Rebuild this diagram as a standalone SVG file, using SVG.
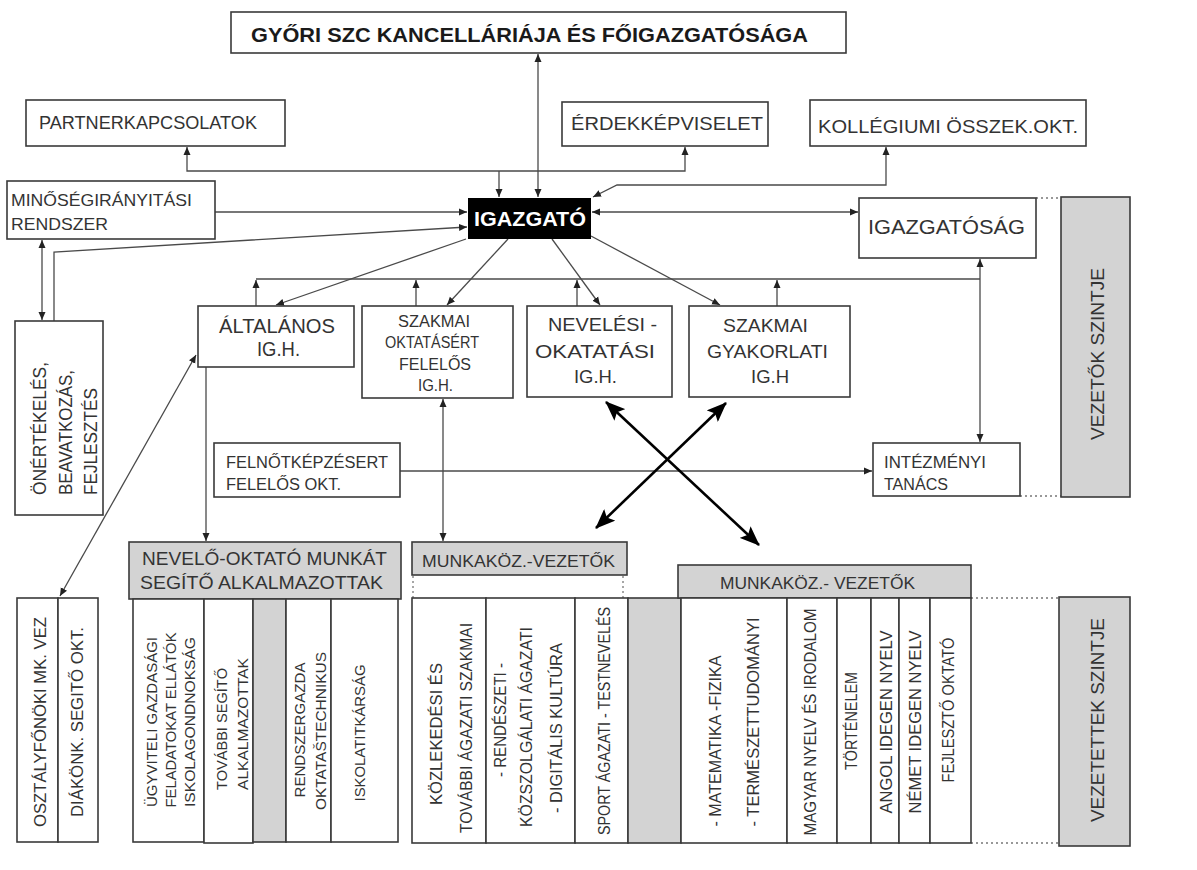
<svg xmlns="http://www.w3.org/2000/svg" width="1197" height="870" viewBox="0 0 1197 870">
<defs>
<style>
.t{font-family:"Liberation Sans",Arial,sans-serif;fill:#333}
.b{font-weight:bold}
.box{fill:#fff;stroke:#3a3a3a;stroke-width:1.6}
.gbox{fill:#d3d3d3;stroke:#3a3a3a;stroke-width:1.6}
.c{fill:none;stroke:#4a4a4a;stroke-width:1.3}
.big{fill:none;stroke:#000;stroke-width:2.6}
.dot{fill:none;stroke:#777;stroke-width:1.3;stroke-dasharray:2 3}
</style>
<marker id="a" viewBox="0 0 8 8" refX="8" refY="4" markerWidth="8" markerHeight="8" markerUnits="userSpaceOnUse" orient="auto-start-reverse"><path d="M0,0.5 L8,4 L0,7.5 z" fill="#222"/></marker>
<marker id="A" viewBox="0 0 20 16" refX="19" refY="8" markerWidth="20" markerHeight="16" markerUnits="userSpaceOnUse" orient="auto-start-reverse"><path d="M0,0 L20,8 L0,16 L4,8 z" fill="#000"/></marker>
</defs>
<rect width="1197" height="870" fill="#fff"/>

<g id="connectors">
<line class="c" x1="538" y1="54" x2="538" y2="197" marker-start="url(#a)" marker-end="url(#a)"/>
<polyline class="c" points="187,147 187,171 685,171 685,147" marker-start="url(#a)" marker-end="url(#a)"/>
<line class="c" x1="499" y1="171" x2="499" y2="197" marker-end="url(#a)"/>
<polyline class="c" points="886,147 886,185 617,185 593,197" marker-start="url(#a)" marker-end="url(#a)"/>
<line class="c" x1="215" y1="212" x2="467" y2="212" marker-end="url(#a)"/>
<polyline class="c" points="54,321 54,252 467,227" marker-end="url(#a)"/>
<line class="c" x1="42" y1="240" x2="42" y2="320" marker-start="url(#a)" marker-end="url(#a)"/>
<line class="c" x1="592" y1="212" x2="858" y2="212" marker-start="url(#a)" marker-end="url(#a)"/>
<line class="c" x1="466" y1="239" x2="276" y2="305" marker-end="url(#a)"/>
<line class="c" x1="508" y1="239" x2="447" y2="305" marker-end="url(#a)"/>
<line class="c" x1="552" y1="239" x2="600" y2="305" marker-end="url(#a)"/>
<line class="c" x1="591" y1="236" x2="720" y2="305" marker-end="url(#a)"/>
<polyline class="c" points="256,279 980,279"/>
<line class="c" x1="256" y1="306" x2="256" y2="280" marker-end="url(#a)"/>
<line class="c" x1="416" y1="306" x2="416" y2="280" marker-end="url(#a)"/>
<line class="c" x1="577" y1="306" x2="577" y2="280" marker-end="url(#a)"/>
<line class="c" x1="777" y1="306" x2="777" y2="280" marker-end="url(#a)"/>
<line class="c" x1="980" y1="259" x2="980" y2="442" marker-start="url(#a)" marker-end="url(#a)"/>
<line class="c" x1="206" y1="367" x2="206" y2="541" marker-end="url(#a)"/>
<line class="c" x1="443" y1="399" x2="443" y2="541" marker-start="url(#a)" marker-end="url(#a)"/>
<line class="c" x1="400" y1="471" x2="872" y2="471" marker-end="url(#a)"/>
<line class="c" x1="196" y1="355" x2="60" y2="596" marker-start="url(#a)" marker-end="url(#a)"/>
<line class="big" x1="606" y1="402" x2="759" y2="545" marker-start="url(#A)" marker-end="url(#A)"/>
<line class="big" x1="726" y1="403" x2="596" y2="528" marker-start="url(#A)" marker-end="url(#A)"/>
<line class="dot" x1="1036" y1="198" x2="1061" y2="198"/>
<line class="dot" x1="1020" y1="496" x2="1061" y2="496"/>
<line class="dot" x1="971" y1="598" x2="1059" y2="598"/>
<line class="dot" x1="971" y1="843" x2="1059" y2="843"/>
<line class="dot" x1="413" y1="576" x2="413" y2="598"/>
<line class="dot" x1="623" y1="576" x2="623" y2="598"/>
</g>

<g id="kancellaria">
<rect class="box" x="231" y="12" width="615" height="41"/>
<text class="t b" x="251" y="42" font-size="21" textLength="557" lengthAdjust="spacingAndGlyphs" style="fill:#1a1a1a">GYŐRI SZC KANCELLÁRIÁJA ÉS FŐIGAZGATÓSÁGA</text>
</g>
<g id="partner">
<rect class="box" x="26" y="100" width="259" height="46"/>
<text class="t" x="39" y="129" font-size="18" textLength="218" lengthAdjust="spacingAndGlyphs">PARTNERKAPCSOLATOK</text>
</g>
<g id="erdek">
<rect class="box" x="562" y="102" width="206" height="44"/>
<text class="t" x="571" y="130" font-size="18" textLength="192" lengthAdjust="spacingAndGlyphs">ÉRDEKKÉPVISELET</text>
</g>
<g id="kollegium">
<rect class="box" x="810" y="100" width="276" height="46"/>
<text class="t" x="818" y="133" font-size="19" textLength="260" lengthAdjust="spacingAndGlyphs">KOLLÉGIUMI ÖSSZEK.OKT.</text>
</g>
<g id="minoseg">
<rect class="box" x="7" y="181" width="208" height="58"/>
<text class="t" x="11" y="206" font-size="17" textLength="181" lengthAdjust="spacingAndGlyphs">MINŐSÉGIRÁNYITÁSI</text>
<text class="t" x="11" y="230" font-size="17" textLength="97" lengthAdjust="spacingAndGlyphs">RENDSZER</text>
</g>
<g id="igazgato">
<rect x="468" y="198" width="123" height="41" fill="#000"/>
<text class="t b" x="474" y="226" font-size="21" textLength="112" lengthAdjust="spacingAndGlyphs" style="fill:#fff">IGAZGATÓ</text>
</g>
<g id="igazgatosag">
<rect class="box" x="859" y="198" width="177" height="60"/>
<text class="t" x="868" y="234" font-size="21" textLength="157" lengthAdjust="spacingAndGlyphs">IGAZGATÓSÁG</text>
</g>
<g id="vezetok-szintje">
<rect class="gbox" x="1061" y="197" width="69" height="300"/>
<text class="t" transform="translate(1104,354) rotate(-90)" text-anchor="middle" font-size="19" textLength="172" lengthAdjust="spacingAndGlyphs">VEZETŐK SZINTJE</text>
</g>
<g id="onertekeles">
<rect class="box" x="15" y="321" width="88" height="194"/>
<text class="t" transform="translate(46,495) rotate(-90)" font-size="18" textLength="133" lengthAdjust="spacingAndGlyphs">ÖNÉRTÉKELÉS,</text>
<text class="t" transform="translate(72,495) rotate(-90)" font-size="18" textLength="125" lengthAdjust="spacingAndGlyphs">BEAVATKOZÁS,</text>
<text class="t" transform="translate(97,495) rotate(-90)" font-size="18" textLength="107" lengthAdjust="spacingAndGlyphs">FEJLESZTÉS</text>
</g>
<g id="altalanos">
<rect class="box" x="198" y="306" width="156" height="61"/>
<text class="t" x="219" y="333" font-size="20" textLength="116" lengthAdjust="spacingAndGlyphs">ÁLTALÁNOS</text>
<text class="t" x="257" y="356" font-size="20" textLength="43" lengthAdjust="spacingAndGlyphs">IG.H.</text>
</g>
<g id="szakmai-oktatas">
<rect class="box" x="362" y="306" width="151" height="92"/>
<text class="t" x="398" y="327" font-size="16" textLength="72" lengthAdjust="spacingAndGlyphs">SZAKMAI</text>
<text class="t" x="385" y="348" font-size="16" textLength="94" lengthAdjust="spacingAndGlyphs">OKTATÁSÉRT</text>
<text class="t" x="399" y="370" font-size="16" textLength="72" lengthAdjust="spacingAndGlyphs">FELELŐS</text>
<text class="t" x="418" y="391" font-size="16" textLength="35" lengthAdjust="spacingAndGlyphs">IG.H.</text>
</g>
<g id="nevelesi">
<rect class="box" x="527" y="306" width="145" height="91"/>
<text class="t" x="548" y="331" font-size="19" textLength="109" lengthAdjust="spacingAndGlyphs">NEVELÉSI -</text>
<text class="t" x="535" y="358" font-size="19" textLength="120" lengthAdjust="spacingAndGlyphs">OKATATÁSI</text>
<text class="t" x="574" y="383" font-size="19" textLength="43" lengthAdjust="spacingAndGlyphs">IG.H.</text>
</g>
<g id="szakmai-gyakorlati">
<rect class="box" x="689" y="306" width="161" height="91"/>
<text class="t" x="723" y="332" font-size="19" textLength="85" lengthAdjust="spacingAndGlyphs">SZAKMAI</text>
<text class="t" x="707" y="358" font-size="19" textLength="121" lengthAdjust="spacingAndGlyphs">GYAKORLATI</text>
<text class="t" x="751" y="383" font-size="19" textLength="38" lengthAdjust="spacingAndGlyphs">IG.H</text>
</g>
<g id="felnottkepzes">
<rect class="box" x="214" y="443" width="186" height="54"/>
<text class="t" x="226" y="468" font-size="16" textLength="162" lengthAdjust="spacingAndGlyphs">FELNŐTKÉPZÉSERT</text>
<text class="t" x="226" y="490" font-size="16" textLength="115" lengthAdjust="spacingAndGlyphs">FELELŐS OKT.</text>
</g>
<g id="intezmenyi-tanacs">
<rect class="box" x="873" y="443" width="147" height="53"/>
<text class="t" x="884" y="468" font-size="16" textLength="102" lengthAdjust="spacingAndGlyphs">INTÉZMÉNYI</text>
<text class="t" x="884" y="490" font-size="16" textLength="64" lengthAdjust="spacingAndGlyphs">TANÁCS</text>
</g>

<g id="osztalyfonoki">
<rect class="box" x="17" y="598" width="41" height="244"/>
<text class="t" transform="translate(46,722) rotate(-90)" text-anchor="middle" font-size="16" textLength="210" lengthAdjust="spacingAndGlyphs">OSZTÁLYFŐNÖKI MK. VEZ</text>
</g>
<g id="diakonk">
<rect class="box" x="58" y="598" width="40" height="244"/>
<text class="t" transform="translate(83,722) rotate(-90)" text-anchor="middle" font-size="16" textLength="190" lengthAdjust="spacingAndGlyphs">DIÁKÖNK. SEGITŐ OKT.</text>
</g>

<g id="nevelo-oktato">
<rect class="gbox" x="129" y="542" width="272" height="57"/>
<text class="t" x="142" y="565" font-size="18" textLength="245" lengthAdjust="spacingAndGlyphs">NEVELŐ-OKTATÓ MUNKÁT</text>
<text class="t" x="140" y="589" font-size="18" textLength="243" lengthAdjust="spacingAndGlyphs">SEGÍTŐ ALKALMAZOTTAK</text>
<rect class="box" x="133" y="599" width="71" height="243"/>
<rect class="box" x="204" y="599" width="49" height="244"/>
<rect class="gbox" x="253" y="599" width="33" height="243"/>
<rect class="box" x="286" y="599" width="45" height="243"/>
<rect class="box" x="331" y="599" width="67" height="243"/>
<text class="t" transform="translate(157,722) rotate(-90)" text-anchor="middle" font-size="14" textLength="170" lengthAdjust="spacingAndGlyphs">ÜGYVITELI GAZDASÁGI</text>
<text class="t" transform="translate(176,720) rotate(-90)" text-anchor="middle" font-size="14" textLength="175" lengthAdjust="spacingAndGlyphs">FELADATOKAT ELLÁTÓK</text>
<text class="t" transform="translate(195,722) rotate(-90)" text-anchor="middle" font-size="14" textLength="170" lengthAdjust="spacingAndGlyphs">ISKOLAGONDNOKSÁG</text>
<text class="t" transform="translate(227,729) rotate(-90)" text-anchor="middle" font-size="15" textLength="122" lengthAdjust="spacingAndGlyphs">TOVÁBBI SEGÍTŐ</text>
<text class="t" transform="translate(248,724) rotate(-90)" text-anchor="middle" font-size="15" textLength="132" lengthAdjust="spacingAndGlyphs">ALKALMAZOTTAK</text>
<text class="t" transform="translate(305,730) rotate(-90)" text-anchor="middle" font-size="14" textLength="135" lengthAdjust="spacingAndGlyphs">RENDSZERGAZDA</text>
<text class="t" transform="translate(326,731) rotate(-90)" text-anchor="middle" font-size="14" textLength="158" lengthAdjust="spacingAndGlyphs">OKTATAŠTECHNIKUS</text>
<text class="t" transform="translate(365,733) rotate(-90)" text-anchor="middle" font-size="15" textLength="137" lengthAdjust="spacingAndGlyphs">ISKOLATITKÁRSÁG</text>
</g>

<g id="munkakoz-kozep">
<rect class="gbox" x="412" y="542" width="215" height="33"/>
<text class="t" x="422" y="567" font-size="17" textLength="193" lengthAdjust="spacingAndGlyphs">MUNKAKÖZ.-VEZETŐK</text>
<rect class="box" x="412" y="598" width="74" height="245"/>
<rect class="box" x="486" y="598" width="89" height="245"/>
<rect class="box" x="575" y="598" width="53" height="245"/>
<rect class="gbox" x="628" y="598" width="53" height="245"/>
<text class="t" transform="translate(442,734) rotate(-90)" text-anchor="middle" font-size="16" textLength="142" lengthAdjust="spacingAndGlyphs">KÖZLEKEDÉSI ÉS</text>
<text class="t" transform="translate(472,728) rotate(-90)" text-anchor="middle" font-size="16" textLength="210" lengthAdjust="spacingAndGlyphs">TOVÁBBI ÁGAZATI SZAKMAI</text>
<text class="t" transform="translate(506,720) rotate(-90)" text-anchor="middle" font-size="16" textLength="114" lengthAdjust="spacingAndGlyphs">- RENDÉSZETI -</text>
<text class="t" transform="translate(532,727) rotate(-90)" text-anchor="middle" font-size="16" textLength="200" lengthAdjust="spacingAndGlyphs">KÖZSZOLGÁLATI ÁGAZATI</text>
<text class="t" transform="translate(562,728) rotate(-90)" text-anchor="middle" font-size="16" textLength="170" lengthAdjust="spacingAndGlyphs">- DIGITÁLIS KULTÚRA</text>
<text class="t" transform="translate(610,721) rotate(-90)" text-anchor="middle" font-size="16" textLength="228" lengthAdjust="spacingAndGlyphs">SPORT ÁGAZATI - TESTNEVELÉS</text>
</g>

<g id="munkakoz-jobb">
<rect class="gbox" x="678" y="565" width="293" height="33"/>
<text class="t" x="720" y="589" font-size="17" textLength="195" lengthAdjust="spacingAndGlyphs">MUNKAKÖZ.- VEZETŐK</text>
<rect class="box" x="681" y="598" width="106" height="245"/>
<rect class="box" x="787" y="598" width="50" height="245"/>
<rect class="box" x="837" y="598" width="34" height="245"/>
<rect class="box" x="871" y="598" width="28" height="245"/>
<rect class="box" x="899" y="598" width="31" height="245"/>
<rect class="box" x="930" y="598" width="41" height="245"/>
<text class="t" transform="translate(721,741) rotate(-90)" text-anchor="middle" font-size="17" textLength="171" lengthAdjust="spacingAndGlyphs">- MATEMATIKA -FIZIKA</text>
<text class="t" transform="translate(759,722) rotate(-90)" text-anchor="middle" font-size="17" textLength="209" lengthAdjust="spacingAndGlyphs">- TERMÉSZETTUDOMÁNYI</text>
<text class="t" transform="translate(816,722) rotate(-90)" text-anchor="middle" font-size="17" textLength="227" lengthAdjust="spacingAndGlyphs">MAGYAR NYELV ÉS IRODALOM</text>
<text class="t" transform="translate(857,721) rotate(-90)" text-anchor="middle" font-size="16" textLength="98" lengthAdjust="spacingAndGlyphs">TÖRTÉNELEM</text>
<text class="t" transform="translate(892,722) rotate(-90)" text-anchor="middle" font-size="17" textLength="183" lengthAdjust="spacingAndGlyphs">ANGOL IDEGEN NYELV</text>
<text class="t" transform="translate(921,722) rotate(-90)" text-anchor="middle" font-size="17" textLength="183" lengthAdjust="spacingAndGlyphs">NÉMET IDEGEN NYELV</text>
<text class="t" transform="translate(954,710) rotate(-90)" text-anchor="middle" font-size="16" textLength="145" lengthAdjust="spacingAndGlyphs">FEJLESZTŐ OKTATÓ</text>
</g>

<g id="vezetettek-szintje">
<rect class="gbox" x="1059" y="597" width="71" height="249"/>
<text class="t" transform="translate(1104,720) rotate(-90)" text-anchor="middle" font-size="19" textLength="204" lengthAdjust="spacingAndGlyphs">VEZETETTEK SZINTJE</text>
</g>
</svg>
